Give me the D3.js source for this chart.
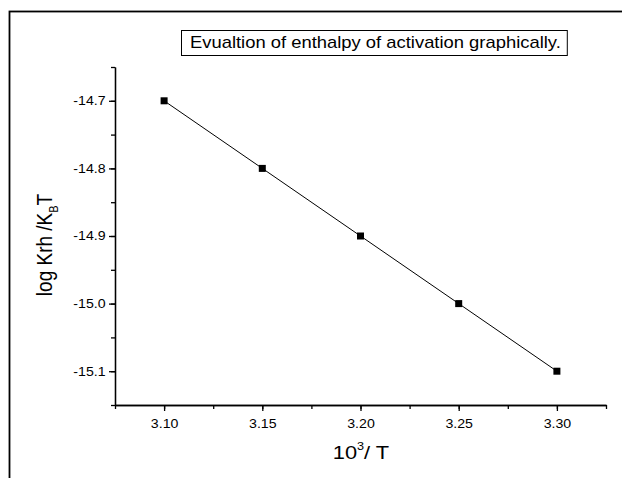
<!DOCTYPE html>
<html>
<head>
<meta charset="utf-8">
<script src="https://cdn.jsdelivr.net/npm/d3@7"></script>
<style>
  body { margin: 0; background: #fff; }
  svg { font-family: "Liberation Sans", Arial, sans-serif; }
  .axis path, .axis line { stroke: #000; stroke-width: 1.3; }
  .axis text { font-size: 12px; fill: #000; font-family: "Liberation Sans", Arial, sans-serif; }
</style>
</head>
<body>
<script>

var xValues = [3.10, 3.15, 3.20, 3.25, 3.30];
var yValues = [-14.7, -14.8, -14.9, -15.0, -15.1];
var xTicks = [3.10, 3.15, 3.20, 3.25, 3.30];
var yTicks = [-14.7, -14.8, -14.9, -15.0, -15.1];
var titleText = "Evualtion of enthalpy of activation graphically.";

var data = xValues.map(function(d, i) { return {x: d, y: yValues[i]}; });

var width = 622, height = 478;
var margin = {top: 67, right: 16, bottom: 73, left: 115};
var stretch = 1.18; // the original text looks a bit wide

var svg = d3.select("body").append("svg")
    .attr("width", width)
    .attr("height", height);

// outer frame, runs off the right and bottom edge
svg.append("rect")
    .attr("x", 9.5).attr("y", 11.5)
    .attr("width", 640).attr("height", 500)
    .attr("fill", "none").attr("stroke", "#000").attr("stroke-width", 1.8);

var x = d3.scaleLinear()
    .domain([3.075, 3.325])
    .range([margin.left, width - margin.right]);

var y = d3.scaleLinear()
    .domain([-15.15, -14.65])
    .range([height - margin.bottom, margin.top]);

var fmtY = function(d) { return d3.format(".1f")(d).replace("\u2212", "-"); };

// minor ticks
var xMinor = d3.range(0, 11).map(function(i) { return 3.075 + i * 0.025; });
var yMinor = d3.range(0, 11).map(function(i) { return -15.15 + i * 0.05; });

svg.append("g")
    .attr("class", "axis")
    .attr("transform", "translate(0," + y.range()[0] + ")")
    .call(d3.axisBottom(x).tickValues(xMinor).tickSize(4).tickFormat("").tickSizeOuter(0));

svg.append("g")
    .attr("class", "axis")
    .attr("transform", "translate(" + x.range()[0] + ",0)")
    .call(d3.axisLeft(y).tickValues(yMinor).tickSize(4).tickFormat("").tickSizeOuter(0));

svg.append("g")
    .attr("class", "axis")
    .attr("transform", "translate(0," + y.range()[0] + ")")
    .call(d3.axisBottom(x).tickValues(xTicks).tickSize(6).tickPadding(8)
        .tickFormat(d3.format(".2f")).tickSizeOuter(0))
    .selectAll("text").attr("transform", "scale(" + stretch + ",1)");

svg.append("g")
    .attr("class", "axis")
    .attr("transform", "translate(" + x.range()[0] + ",0)")
    .call(d3.axisLeft(y).tickValues(yTicks).tickSize(6).tickPadding(2)
        .tickFormat(fmtY).tickSizeOuter(0))
    .selectAll("text").attr("transform", "scale(" + stretch + ",1)");

// line + square markers
var line = d3.line()
    .x(function(d) { return x(d.x); })
    .y(function(d) { return y(d.y); });

svg.append("path")
    .attr("d", line(data))
    .attr("fill", "none")
    .attr("stroke", "#000")
    .attr("stroke-width", 1);

svg.selectAll(".pt")
    .data(data)
  .enter().append("rect")
    .attr("class", "pt")
    .attr("x", function(d) { return x(d.x) - 3.5; })
    .attr("y", function(d) { return y(d.y) - 3.5; })
    .attr("width", 7).attr("height", 7)
    .attr("fill", "#000");

// title box
var boxG = svg.append("g");
var boxRect = boxG.append("rect");
var title = boxG.append("text")
    .attr("transform", "translate(190,48) scale(1.15,1)")
    .attr("font-size", "16px")
    .text(titleText);
var tw = title.node().getBBox().width * 1.15;
boxRect
    .attr("x", 181.5).attr("y", 30.5)
    .attr("width", tw + 15).attr("height", 25)
    .attr("fill", "#fff").attr("stroke", "#000").attr("stroke-width", 1);

// axis labels
var xl = svg.append("text")
    .attr("transform", "translate(361,459) scale(1.15,1)")
    .attr("text-anchor", "middle")
    .attr("font-size", "19px");
xl.append("tspan").text("10");
xl.append("tspan").attr("font-size", "11px").attr("dy", -9).text("3");
xl.append("tspan").attr("dy", 9).text("/ T");

var yl = svg.append("text")
    .attr("transform", "translate(52,245) rotate(-90) scale(1,1.2)")
    .attr("text-anchor", "middle")
    .attr("font-size", "19px");
yl.append("tspan").text("log Krh /K");
yl.append("tspan").attr("font-size", "11px").attr("dy", 5).text("B");
yl.append("tspan").attr("dy", -5).text("T");

</script>
</body>
</html>
